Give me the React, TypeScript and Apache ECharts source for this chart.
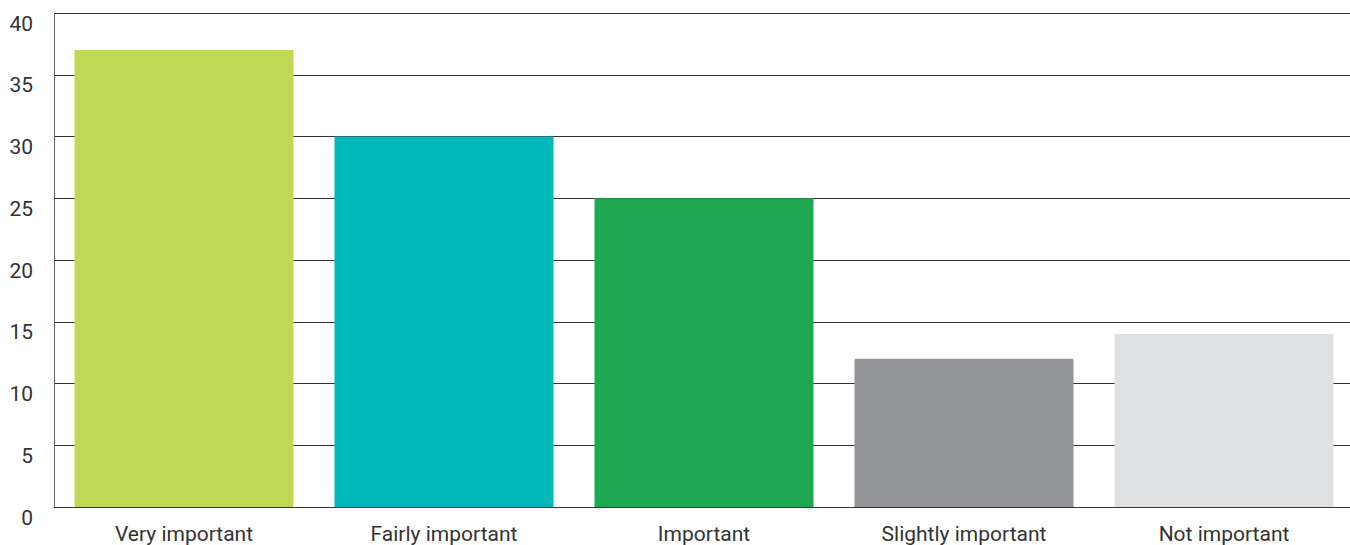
import React, { useEffect, useRef } from "react";
import * as echarts from "echarts";

const categories = [
  "Very important",
  "Fairly important",
  "Important",
  "Slightly important",
  "Not important",
];
const values = [37, 30, 25, 12, 14];
const barColors = ["#C0D955", "#00B8BA", "#1DA851", "#949599", "#E0E1E3"];
const yTicks = { min: 0, max: 40, interval: 5 };

export default function App() {
  const ref = useRef<HTMLDivElement>(null);

  useEffect(() => {
    if (!ref.current) return;
    const chart = echarts.init(ref.current, null, { renderer: "svg" });
    chart.setOption({
      animation: false,
      textStyle: { fontFamily: "Roboto" },
      grid: {
        left: 54,
        width: 1300,
        top: 13,
        bottom: 38,
        containLabel: false,
        outerBoundsMode: "none",
      },
      xAxis: {
        type: "category",
        data: categories,
        axisLine: { show: true, lineStyle: { color: "#333333", width: 1 } },
        axisTick: { show: false },
        axisLabel: {
          color: "#333333",
          fontSize: 21,
          fontFamily: "Roboto",
          margin: 16,
        },
      },
      yAxis: {
        type: "value",
        min: yTicks.min,
        max: yTicks.max,
        interval: yTicks.interval,
        axisLine: { show: true, lineStyle: { color: "#666666", width: 1 } },
        axisTick: { show: false },
        splitLine: { show: true, lineStyle: { color: "#333333", width: 1 } },
        axisLabel: {
          color: "#333333",
          fontSize: 21,
          fontFamily: "Roboto",
          margin: 21,
          verticalAlign: "top",
        },
      },
      series: [
        {
          type: "bar",
          data: values.map((v, i) => ({
            value: v,
            itemStyle: { color: barColors[i] },
          })),
          barWidth: 219,
        },
      ],
    });
    return () => chart.dispose();
  }, []);

  return (
    <div
      ref={ref}
      style={{ position: "absolute", left: 0, top: 0, width: 1350, height: 545 }}
    />
  );
}
